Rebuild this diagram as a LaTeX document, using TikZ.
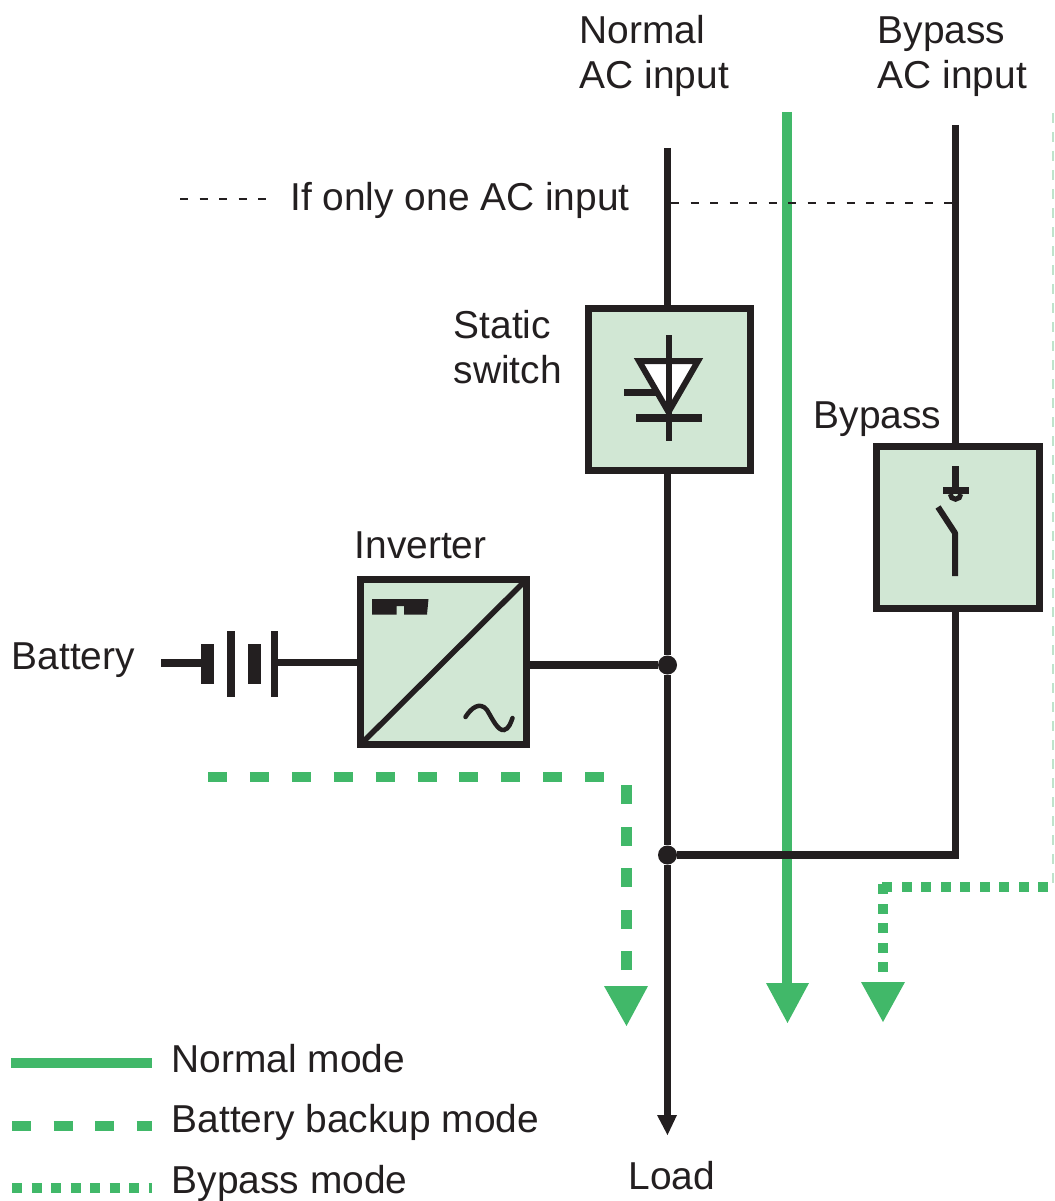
\documentclass[tikz,border=0pt]{standalone}
\usepackage{fontspec}
\usetikzlibrary{calc}
\setmainfont{Liberation Sans}
\definecolor{ink}{HTML}{231F20}
\definecolor{modegreen}{HTML}{41B869}
\definecolor{boxgreen}{HTML}{D1E7D4}
\definecolor{edgegreen}{HTML}{BFE3CB}
\tikzset{
  wire/.style={draw=ink,line width=7.5pt},
  thinwire/.style={draw=ink,line width=6pt},
  unit/.style={draw=ink,line width=7pt,fill=boxgreen,inner sep=0pt,rectangle},
  lbl/.style={text=ink,font=\fontsize{38.9}{45}\selectfont,inner sep=0pt,anchor=base west,align=left},
  ifline/.style={draw=ink,line width=1.5pt,dash pattern=on 8pt off 11.5pt},
  solidmode/.style={draw=modegreen,line width=10pt},
  dashmode/.style={draw=modegreen,line width=10pt,dash pattern=on 19pt off 22.5pt},
  dashlong/.style={draw=modegreen,line width=10pt,dash pattern=on 19pt off 22.9pt},
  dotmode/.style={draw=modegreen,line width=10pt,dash pattern=on 10pt off 9.5pt},
  head/.style={fill=modegreen,draw=none},
  plate/.style={fill=ink,draw=none},
  dotnode/.style={circle,fill=ink,draw=none,minimum size=19pt,inner sep=0pt},
}
\begin{document}
\begin{tikzpicture}[x=1pt,y=-1pt]
\useasboundingbox (0,0) rectangle (1054,1201);
\coordinate (normin) at (667.5,148);
\coordinate (bypin) at (955.5,125);
\coordinate (loadend) at (667.5,1118);
\coordinate (battwest) at (161,663);
\coordinate (battplate) at (200.7,663);
\coordinate (battout) at (278,662.5);
\node[unit,minimum width=162pt,minimum height=162pt] (static) at (669.5,389.5) {};
\node[unit,minimum width=163pt,minimum height=162pt] (bypass) at (958,527.5) {};
\node[unit,minimum width=166pt,minimum height=165pt] (inverter) at (443.5,662) {};
\node[dotnode] (j1) at (667.5,665) {};
\node[dotnode] (j2) at (667.5,855) {};
% green paths
\coordinate (ng0) at (787,112);
\coordinate (ng1) at (787,990);
\draw[solidmode] (ng0) -- (ng1);
\fill[head] (766,983) -- (809,983) -- (787.5,1023) -- cycle;
\coordinate (bg0) at (208,777);
\coordinate (bg1) at (604,777);
\coordinate (bg2) at (626,970);
\coordinate (bg3) at (626,784);
\draw[dashlong] (bg0) -- (bg1);
\draw[dashmode,line width=11pt] (bg2) -- (bg3);
\fill[head] (604,986) -- (648,986) -- (626.5,1026) -- cycle;
\coordinate (dg0) at (1048,887);
\coordinate (dg1) at (878,887);
\coordinate (dg2) at (883,972);
\coordinate (dg3) at (883,882);
\draw[dotmode] (dg0) -- (dg1);
\draw[dotmode] (dg2) -- (dg3);
\fill[head] (861,982) -- (905,982) -- (883,1022) -- cycle;
\coordinate (eg0) at (1053,113);
\coordinate (eg1) at (1053,884);
\draw[edgegreen,line width=2pt,dash pattern=on 10pt off 9pt] (eg0) -- (eg1);
% black wiring
\draw[wire] (normin) -- (static.north -| normin);
\draw[wire] (static.south -| normin) -- (j1) -- (j2) -- (loadend);
\fill[ink] (657,1115) -- (677,1115) -- (667.5,1135) -- cycle;
\draw[wire] (bypin) -- (bypass.north -| bypin);
\draw[wire,line join=miter] (bypass.south -| bypin) -- (955.5,855) -- (j2);
\draw[wire] (inverter.east |- j1) -- (j1);
\draw[wire] (battwest) -- (battplate);
\draw[wire] (battout) -- (inverter.west |- battout);
% single-input link
\coordinate (if0) at (180,199); \coordinate (if1) at (268,199);
\coordinate (if2) at (671,203); \coordinate (if3) at (955,203);
\draw[ifline] (if0) -- (if1);
\draw[ifline] (if2) -- (if3);
% battery
\fill[plate] (200.7,644) rectangle (214,684);
\fill[plate] (227,631) rectangle (235,697);
\fill[plate] (248,644) rectangle (261,684);
\fill[plate] (270.5,631) rectangle (278,697);
% static switch symbol
\draw[ink,line width=6pt,fill=white,miter limit=10] (639,361) -- (698,361) -- (668.5,412) -- cycle;
\draw[thinwire] (668.5,335) -- (668.5,441);
\draw[thinwire,line width=7pt] (624,392) -- (656,392);
\draw[thinwire,line width=8pt] (636,418) -- (702,418);
% bypass switch symbol
\draw[wire] (955.5,466) -- (955.5,490);
\fill[ink] (943,487) rectangle (969,494);
\draw[ink,line width=5pt] (950.25,494) arc[start angle=180,end angle=0,radius=5.25];
\draw[thinwire,line join=round] (938,507) -- (955,533) -- (955,576);
% inverter symbols
\draw[ink,line width=5.5pt] ($(inverter.south west)+(3,-3)$) -- ($(inverter.north east)+(-3,3)$);
\fill[ink] (372,599) -- (428.5,599) -- (427,614.5) -- (404,614.5) -- (404,606) -- (396.5,606) -- (396.5,614.5) -- (372,614.5) -- cycle;
\draw[ink,line width=4.5pt,line cap=round] (465.5,717) .. controls (471,708) and (480,701) .. (487,710) .. controls (493,720) and (498,731) .. (504,730) .. controls (509,729) and (511,722) .. (512.5,718);
% legend
\coordinate (l1a) at (11,1063); \coordinate (l1b) at (152,1063);
\coordinate (l2a) at (12,1126); \coordinate (l2b) at (152,1126);
\coordinate (l3a) at (12,1187.5); \coordinate (l3b) at (152,1187.5);
\draw[solidmode] (l1a) -- (l1b);
\draw[dashmode] (l2a) -- (l2b);
\draw[dotmode] (l3a) -- (l3b);
% labels
\node[lbl] (tnorm) at (579.5,44) {Normal};
\node[lbl] (tnorm2) at (579.5,89) {AC input};
\node[lbl] (tbyp) at (877.5,44) {Bypass};
\node[lbl] (tbyp2) at (877.5,89) {AC input};
\node[lbl] (tif) at (290,211) {If only one AC input};
\node[lbl] (tstat) at (453.5,338) {Static};
\node[lbl] (tstat2) at (453.5,383) {switch};
\node[lbl] (tbp) at (813.5,428) {Bypass};
\node[lbl] (tinv) at (354.5,558) {Inverter};
\node[lbl] (tbat) at (11.5,669) {Battery};
\node[lbl] (tload) at (628.5,1189) {Load};
\node[lbl] (tl1) at (171.5,1072) {Normal mode};
\node[lbl] (tl2) at (171.5,1132) {Battery backup mode};
\node[lbl] (tl3) at (171.5,1193) {Bypass mode};
\end{tikzpicture}
\end{document}
